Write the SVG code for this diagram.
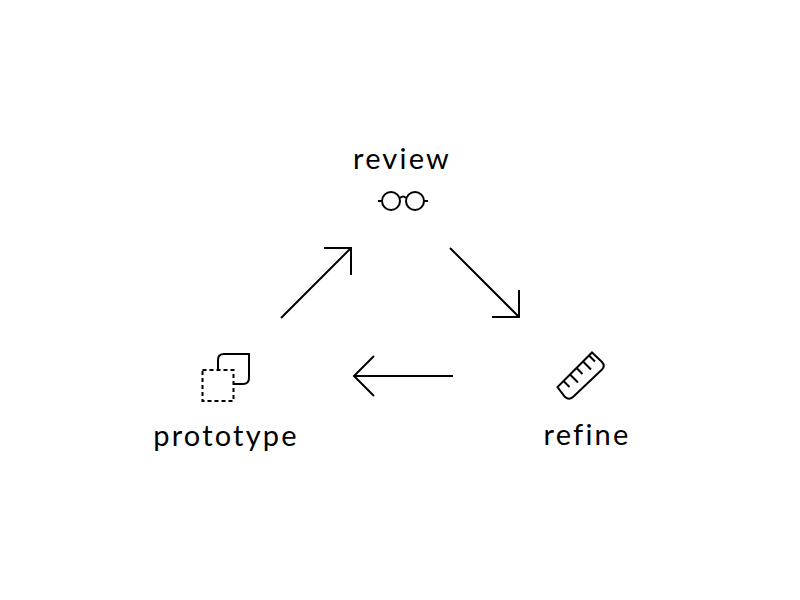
<svg xmlns="http://www.w3.org/2000/svg" width="800" height="600" viewBox="0 0 800 600">
<style>
text{font-family:"Lato","Noto Sans","Liberation Sans",sans-serif;font-size:29px;fill:#000;text-anchor:middle;letter-spacing:2.2px}
.l{fill:none;stroke:#000;stroke-width:2}
</style>
<rect width="800" height="600" fill="#fff"/>
<g id="connectors" class="l">
<path d="M281 318L351 248M324 248H351V275"/>
<path d="M450 248L519 317M492 317H519V290"/>
<path d="M453 376H355M374 356L354 376L374 396"/>
</g>
<g id="review">
<text x="402" y="169">review</text>
<g class="l"><circle cx="391" cy="201" r="9"/><circle cx="415" cy="201" r="9"/><path d="M378 201H382M424 201H428M400 198Q403 195 406 198"/></g>
</g>
<g id="prototype">
<text x="226" y="446">prototype</text>
<path class="l" d="M218 369V360Q218 354 224 354H249V378Q249 384 243 384H234"/>
<rect class="l" x="202.500" y="370" width="31" height="31" stroke-dasharray="4 3"/>
</g>
<g id="refine">
<text x="587" y="445">refine</text>
<g class="l"><path d="M592 352.500L602 362Q605.500 366 602 369.500L573 397Q569 400.500 565 397L557.500 387Z"/><path d="M563.500 381l6 6M570 374.500l8 8M576.500 368l6 6M583 361.500l8 8M589 355.500l6 6"/></g>
</g>
</svg>
